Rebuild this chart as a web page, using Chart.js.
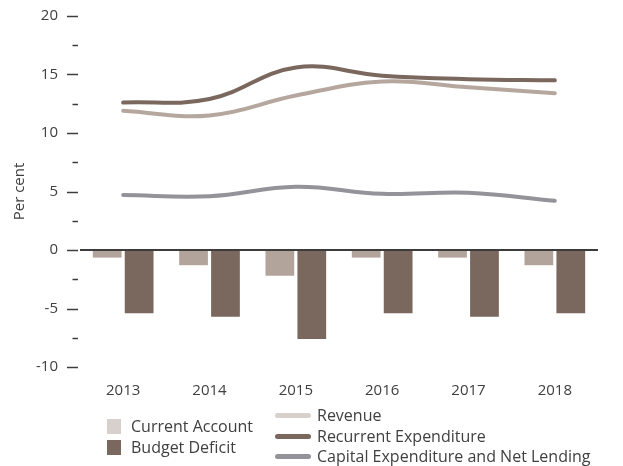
<!DOCTYPE html>
<html>
<head>
<meta charset="utf-8">
<script src="https://cdn.jsdelivr.net/npm/chart.js@4.4.1/dist/chart.umd.min.js"></script>
<style>
  html, body { margin: 0; padding: 0; background: #fff; }
  #wrap { position: relative; width: 623px; height: 466px; font-family: "Open Sans", sans-serif; color: #404040; }
  #legend { position: absolute; left: 0; top: 0; width: 623px; height: 466px; pointer-events: none; font-size: 16px; }
  .item { position: absolute; white-space: nowrap; line-height: 20px; }
  .sq { position: absolute; width: 14px; height: 15px; }
  .ln { position: absolute; width: 36px; height: 5px; border-radius: 3px; }
</style>
</head>
<body>
<div id="wrap">
  <canvas id="myChart" width="623" height="466"></canvas>
  <div id="legend"></div>
</div>
<script>
const years = ['2013', '2014', '2015', '2016', '2017', '2018']

const currentAccount = [-0.65, -1.3, -2.2, -0.65, -0.65, -1.3]
const budgetDeficit = [-5.4, -5.7, -7.6, -5.4, -5.7, -5.4]
const revenue = [11.9, 11.5, 13.2, 14.4, 13.9, 13.4]
const recurrentExp = [12.6, 12.9, 15.6, 14.9, 14.6, 14.5]
const capitalExp = [4.7, 4.6, 5.4, 4.8, 4.9, 4.2]

const colors = {
    ca: '#b2a49b',
    bd: '#7a675d',
    rev: '#b5a79e',
    rec: '#7a675d',
    cap: '#939399'
}

const ctx = document.getElementById('myChart');

// short dashes on the y axis, long for labelled ticks
const axisDashes = {
    id: 'axisDashes',
    afterDraw(chart) {
        const y = chart.scales.y;
        const left = chart.chartArea.left;
        const c = chart.ctx;
        c.save();
        c.strokeStyle = '#3c3c3c';
        c.lineWidth = 1.5;
        for (const t of y.ticks) {
            const py = Math.round(y.getPixelForValue(t.value)) + 0.5;
            const major = t.value % 5 === 0;
            c.beginPath();
            c.moveTo(left - (major ? 13 : 7.5), py);
            c.lineTo(left - 2, py);
            c.stroke();
        }
        c.restore();
    }
}

new Chart(ctx, {
    data: {
        labels: years,
        datasets: [
            {type: 'line', label: 'Revenue', data: revenue, borderColor: colors.rev, borderWidth: 4, tension: 0.4, pointRadius: 0, borderCapStyle: 'round'},
            {type: 'line', label: 'Recurrent Expenditure', data: recurrentExp, borderColor: colors.rec, borderWidth: 4, tension: 0.4, pointRadius: 0, borderCapStyle: 'round'},
            {type: 'line', label: 'Capital Expenditure and Net Lending', data: capitalExp, borderColor: colors.cap, borderWidth: 4, tension: 0.4, pointRadius: 0, borderCapStyle: 'round'},
            {type: 'bar', label: 'Current Account', data: currentAccount, backgroundColor: colors.ca, categoryPercentage: 0.74, barPercentage: 0.9},
            {type: 'bar', label: 'Budget Deficit', data: budgetDeficit, backgroundColor: colors.bd, categoryPercentage: 0.74, barPercentage: 0.9}
        ]
    },
    options: {
        responsive: false,
        animation: false,
        layout: {padding: {top: 16, right: 25, left: 0, bottom: 0}},
        plugins: {legend: {display: false}, tooltip: {enabled: false}},
        scales: {
            x: {
                offset: true,
                grid: {display: false},
                border: {display: false},
                ticks: {color: '#404040', font: {family: 'Open Sans', size: 15}, padding: 7},
                afterFit(scale) { scale.height = 99; }
            },
            y: {
                min: -10,
                max: 20,
                ticks: {
                    stepSize: 2.5,
                    color: '#404040',
                    font: {family: 'Open Sans', size: 15},
                    padding: 22,
                    callback: v => v % 5 === 0 ? v : ''
                },
                grid: {
                    drawTicks: false,
                    color: c => c.tick && c.tick.value === 0 ? '#3c3c3c' : 'rgba(0,0,0,0)',
                    lineWidth: c => c.tick && c.tick.value === 0 ? 2 : 0
                },
                border: {display: false},
                title: {display: true, text: 'Per cent', color: '#404040', font: {family: 'Open Sans', size: 15}, padding: {top: 11, bottom: 0}},
                afterFit(scale) {
                    scale.width = 80;
                    scale.paddingTop = 0;   // tick padding would otherwise push the plot down
                    scale.paddingBottom = 0;
                }
            }
        }
    },
    plugins: [axisDashes]
})

// legend in two columns, as in the source
const legendItems = [
    {kind: 'sq', label: 'Current Account', color: '#d7d0cc', x: 107, y: 419},
    {kind: 'sq', label: 'Budget Deficit', color: colors.bd, x: 107, y: 440},
    {kind: 'ln', label: 'Revenue', color: '#d8d0cb', x: 275, y: 413},
    {kind: 'ln', label: 'Recurrent Expenditure', color: colors.rec, x: 275, y: 434},
    {kind: 'ln', label: 'Capital Expenditure and Net Lending', color: colors.cap, x: 275, y: 454}
]
const legend = document.getElementById('legend');
for (const it of legendItems) {
    const sw = document.createElement('div');
    sw.className = it.kind;
    sw.style.left = it.x + 'px';
    sw.style.top = it.y + 'px';
    sw.style.background = it.color;
    legend.appendChild(sw);
    const tx = document.createElement('div');
    tx.className = 'item';
    tx.textContent = it.label;
    tx.style.left = (it.kind === 'sq' ? it.x + 24 : it.x + 42) + 'px';
    tx.style.top = (it.kind === 'sq' ? it.y - 3 : it.y - 8) + 'px';
    legend.appendChild(tx);
}
</script>
</body>
</html>
